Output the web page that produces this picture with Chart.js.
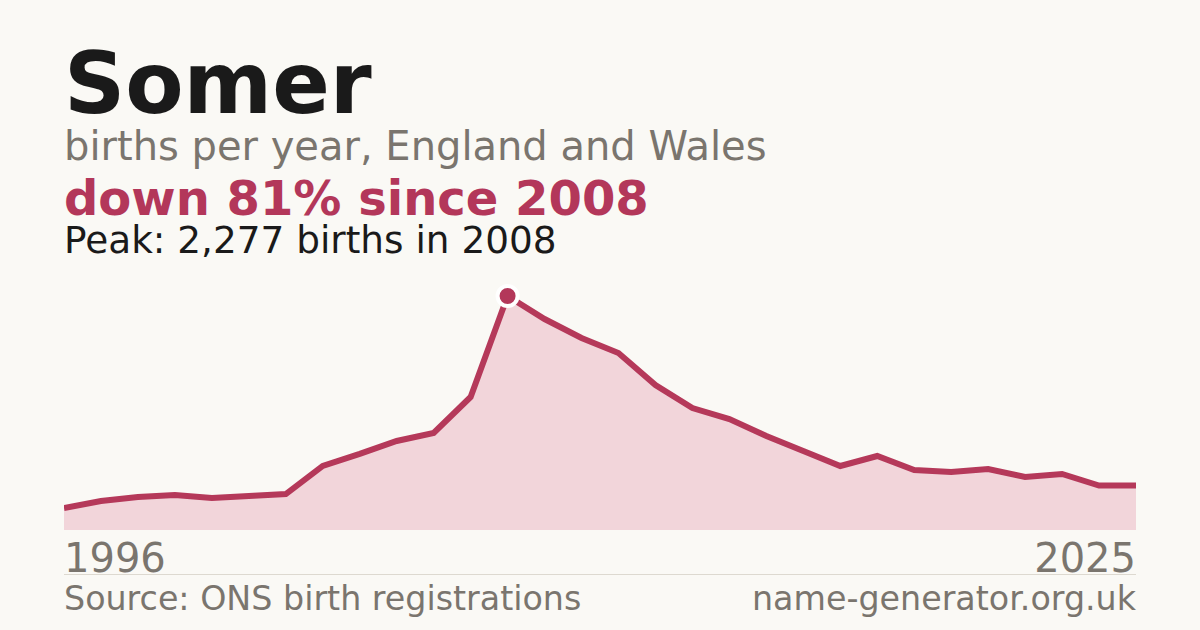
<!DOCTYPE html>
<html>
<head>
    <title>Somer</title>
    <script src="https://cdn.jsdelivr.net/npm/chart.js"></script>
    <style>
        body { margin: 0; width: 1200px; height: 630px; background: #faf9f5; font-family: "DejaVu Sans", sans-serif; position: relative; overflow: hidden; }
        .t { position: absolute; left: 64px; white-space: nowrap; line-height: 1; }
        #title { top: 41px; font-size: 85px; font-weight: bold; color: #1a1a1a; }
        #sub { top: 126px; font-size: 40px; color: #7a756e; }
        #head { top: 174px; font-size: 48px; font-weight: bold; color: #b3375a; }
        #peak { top: 222px; font-size: 37.4px; color: #1a1a1a; }
        #y0 { top: 538px; font-size: 40px; color: #7a756e; }
        #y1 { top: 538px; left: auto; right: 64px; font-size: 40px; color: #7a756e; }
        #rule { position: absolute; left: 64px; width: 1072px; top: 574px; height: 1px; background: #ddd9d0; }
        #src { top: 582px; font-size: 33.3px; color: #7a756e; }
        #site { top: 582px; left: auto; right: 64px; font-size: 33.3px; color: #7a756e; }
        #wrap { position: absolute; left: 64px; top: 270px; width: 1072px; height: 260px; }
    </style>
</head>
<body>
    <div class="t" id="title">Somer</div>
    <div class="t" id="sub">births per year, England and Wales</div>
    <div class="t" id="head">down 81% since 2008</div>
    <div class="t" id="peak">Peak: 2,277 births in 2008</div>
    <div id="wrap"><canvas id="birthChart"></canvas></div>
    <div class="t" id="y0">1996</div>
    <div class="t" id="y1">2025</div>
    <div id="rule"></div>
    <div class="t" id="src">Source: ONS birth registrations</div>
    <div class="t" id="site">name-generator.org.uk</div>
    <script>
        const years = [1996, 1997, 1998, 1999, 2000, 2001, 2002, 2003, 2004, 2005,
                       2006, 2007, 2008, 2009, 2010, 2011, 2012, 2013, 2014, 2015,
                       2016, 2017, 2018, 2019, 2020, 2021, 2022, 2023, 2024, 2025];
        const births = [214, 282, 321, 341, 311, 331, 350, 623, 740, 866,
                        944, 1294, 2277, 2053, 1868, 1722, 1411, 1187, 1080, 915,
                        769, 623, 720, 584, 564, 594, 516, 545, 433, 433];
        const peakYear = 2008;
        const yMax = 2530;

        const peakIdx = years.indexOf(peakYear);
        const radii = years.map((y, i) => i === peakIdx ? 10 : 0);

        const ctx = document.getElementById('birthChart').getContext('2d');
        const myChart = new Chart(ctx, {
            type: 'line',
            data: {
                labels: years,
                datasets: [{
                    data: births,
                    borderColor: '#b5395a',
                    borderWidth: 6,
                    backgroundColor: '#f2d5da',
                    fill: 'origin',
                    tension: 0,
                    pointRadius: radii,
                    pointHoverRadius: radii,
                    pointBackgroundColor: '#b3375a',
                    pointBorderColor: '#ffffff',
                    pointBorderWidth: 4,
                    clip: 14
                }]
            },
            options: {
                responsive: true,
                maintainAspectRatio: false,
                animation: false,
                layout: { padding: 0 },
                plugins: { legend: { display: false }, tooltip: { enabled: false } },
                scales: {
                    x: { display: false, offset: false },
                    y: { display: false, min: 0, max: yMax }
                }
            }
        });
    </script>
</body>
</html>
